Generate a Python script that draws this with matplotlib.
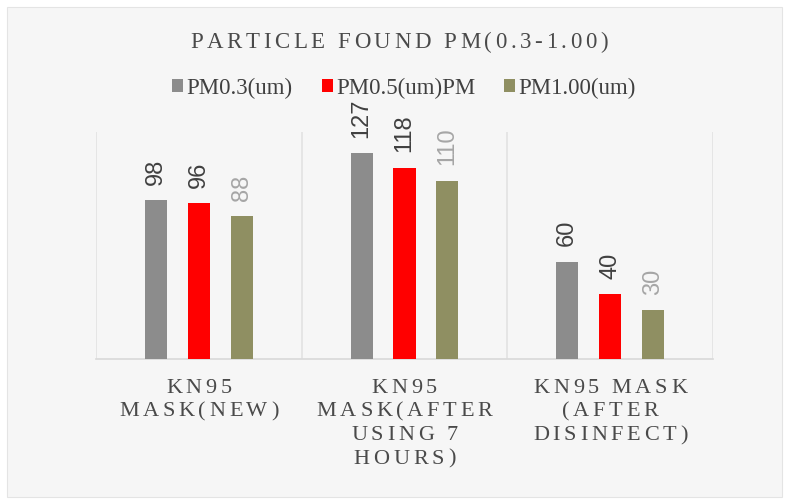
import numpy as np
import matplotlib
matplotlib.use("Agg")
import matplotlib.pyplot as plt
from matplotlib.patches import Rectangle
from matplotlib.transforms import IdentityTransform
from matplotlib.font_manager import FontProperties, findfont
from matplotlib.ft2font import FT2Font, LoadFlags

# data
categories = ["KN95\nMASK(NEW)",
              "KN95\nMASK(AFTER\nUSING 7\nHOURS)",
              "KN95 MASK\n(AFTER\nDISINFECT)"]
series_names = ["PM0.3(um)", "PM0.5(um)PM", "PM1.00(um)"]
pm03 = [98, 127, 60]
pm05 = [96, 118, 40]
pm10 = [88, 110, 30]
title = "PARTICLE FOUND PM(0.3-1.00)"

bar_colors = ['#8c8c8c', '#ff0000', '#8f8f62']
label_colors = ['#404040', '#404040', '#a6a6a6']
bg = '#f6f6f6'
text_col = '#4a4a4a'

W, H = 788, 503
fig = plt.figure(figsize=(W / 100, H / 100), dpi=100)
fig.patch.set_facecolor('white')
fig.patches.append(Rectangle((7 / W, 6 / H), 775 / W, 490 / H, transform=fig.transFigure,
                             facecolor=bg, edgecolor='#e4e4e4', linewidth=0.8, zorder=-10))

ax = fig.add_axes([96 / W, (H - 359) / H, 617 / W, 227 / H])
ax.set_facecolor(bg)

x = np.arange(len(categories))
width = 0.107
offset = 0.209
containers = []
for k, (vals, col) in enumerate(zip([pm03, pm05, pm10], bar_colors)):
    bars = ax.bar(x + (k - 1) * offset, vals, width, color=col, label=series_names[k], zorder=3)
    containers.append(bars)
    ax.bar_label(bars, rotation=90, padding=11, fontsize=17, color=label_colors[k],
                 family='Liberation Sans')

ax.set_xlim(-0.5, 2.5)
ax.set_ylim(0, 140)
ax.set_xticks([])
ax.set_yticks([])
for s in ['top', 'right', 'left']:
    ax.spines[s].set_visible(False)
ax.spines['bottom'].set_color('#d9d9d9')
ax.spines['bottom'].set_linewidth(1.2)
for b in np.arange(-0.5, 2.6, 1.0):
    ax.axvline(b, color='#e2e2e2', linewidth=1.2, zorder=1)


def spaced_text(xc, y_base, s, size, spacing, color):
    # excel-style letter spacing, drawn char by char in pixel coords
    prop = FontProperties(family='Liberation Serif', size=size)
    ft = FT2Font(findfont(prop))
    ft.set_size(size, fig.dpi)
    adv = [ft.load_char(ord(c), flags=LoadFlags.NO_HINTING).linearHoriAdvance / 65536 for c in s]
    total = sum(adv) + spacing * (len(s) - 1)
    x0 = xc - total / 2
    for c, a in zip(s, adv):
        if c != ' ':
            fig.text(x0, H - y_base, c, fontproperties=prop, color=color,
                     transform=IdentityTransform(), ha='left', va='baseline')
        x0 += a + spacing


spaced_text(399, 48, title, 16.5, 3.6, text_col)

fig.canvas.draw()
for i, cat in enumerate(categories):
    xc = ax.transData.transform((x[i], 0))[0]
    for j, line in enumerate(cat.split('\n')):
        spaced_text(xc, 393 + j * 23.5, line, 16, 3.7, text_col)

leg = fig.legend(handles=containers, loc='center', bbox_to_anchor=(404 / W, (H - 88) / H),
                 ncol=3, frameon=False, fontsize=16.5, handlelength=0.48, handleheight=0.48,
                 handletextpad=0.15, columnspacing=1.25, borderaxespad=0)
for t in leg.get_texts():
    t.set_family('Liberation Serif')
    t.set_color('#404040')

fig.savefig('out.png', dpi=100)
